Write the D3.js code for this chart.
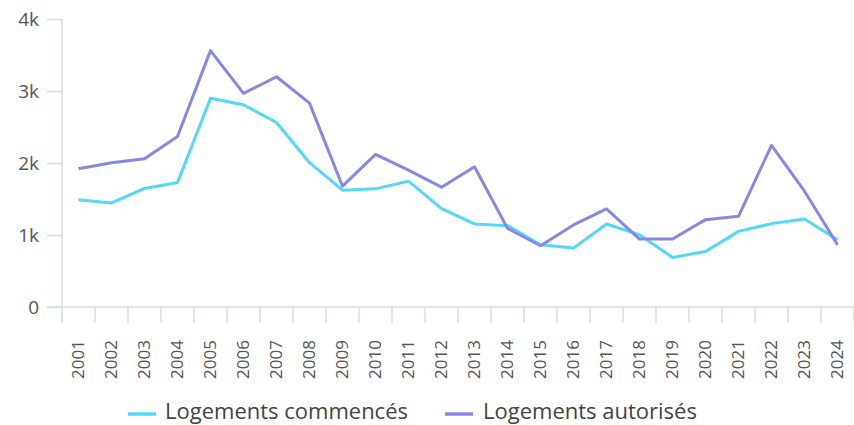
<!DOCTYPE html>
<html>
<head>
<meta charset="utf-8">
<script src="https://cdn.jsdelivr.net/npm/d3@7"></script>
<style>
  html, body { margin: 0; padding: 0; background: #fff; }
  svg { display: block; font-family: "Open Sans", sans-serif; }
</style>
</head>
<body>
<svg id="chart" width="854" height="425"></svg>
<script>
const years = ["2001","2002","2003","2004","2005","2006","2007","2008","2009","2010","2011","2012","2013","2014","2015","2016","2017","2018","2019","2020","2021","2022","2023","2024"];
const commences = [1490,1446,1646,1729,2900,2808,2562,2004,1622,1641,1748,1367,1153,1130,865,818,1153,1004,688,771,1050,1158,1223,934];
const autorises = [1920,2004,2060,2367,3561,2966,3198,2831,1678,2120,1900,1664,1948,1092,851,1140,1362,944,944,1213,1260,2245,1608,865];
const yTicks = [0,1000,2000,3000,4000];
const seriesNames = ["Logements commencés","Logements autorisés"];
const colors = ["#52d9fa","#8787e6"];

const svg = d3.select("#chart");
const axisColor = "#d5dcf0";
const x = d3.scaleBand().domain(years).range([62, 854]);
const y = d3.scaleLinear().domain([0, 4000]).range([307, 19]);

// Y axis
const yAxis = svg.append("g").attr("transform", "translate(62,0)")
  .call(d3.axisLeft(y).tickValues(yTicks).tickSize(15).tickSizeOuter(0).tickPadding(8)
    .tickFormat(d => d === 0 ? "0" : (d/1000) + "k"));
yAxis.select(".domain").remove();
yAxis.selectAll(".tick line").attr("stroke", axisColor).attr("stroke-width", 1.5);
yAxis.selectAll(".tick text").attr("fill", "#555").attr("font-size", 19).attr("font-family", "Open Sans, sans-serif");
svg.append("line").attr("x1", 62).attr("x2", 62).attr("y1", y(4000)).attr("y2", 323)
  .attr("stroke", axisColor).attr("stroke-width", 1.5);

// X axis
svg.append("line").attr("x1", 47).attr("x2", 854).attr("y1", y(0)).attr("y2", y(0))
  .attr("stroke", axisColor).attr("stroke-width", 1.5);
const bounds = years.map(d => x(d)).concat([x.range()[1]]);
svg.append("g").selectAll("line").data(bounds).join("line")
  .attr("x1", d => d).attr("x2", d => d).attr("y1", y(0)).attr("y2", 323)
  .attr("stroke", axisColor).attr("stroke-width", 1.5);
const xAxis = svg.append("g").attr("transform", `translate(0,${y(0)})`)
  .call(d3.axisBottom(x).tickSize(0).tickPadding(0));
xAxis.select(".domain").remove();
xAxis.selectAll(".tick text")
  .attr("transform", "rotate(-90)")
  .attr("x", -33).attr("y", 0).attr("dy", "0.35em")
  .attr("text-anchor", "end")
  .attr("fill", "#555").attr("font-size", 17).attr("font-family", "Open Sans, sans-serif");

// Lines
const cx = d => x(d) + x.bandwidth() / 2;
const line = d3.line().x((d, i) => cx(years[i])).y(d => y(d));
[commences, autorises].forEach((vals, k) => {
  svg.append("path").datum(vals).attr("d", line)
    .attr("fill", "none").attr("stroke", colors[k]).attr("stroke-width", 3)
    .attr("stroke-linejoin", "round");
});

// Legend
const legendPos = [[128, 165], [445, 483]];
seriesNames.forEach((name, k) => {
  const [lx, tx] = legendPos[k];
  svg.append("line").attr("x1", lx).attr("x2", lx + 28).attr("y1", 414).attr("y2", 414)
    .attr("stroke", colors[k]).attr("stroke-width", 3.5);
  svg.append("text").attr("x", tx).attr("y", 419).text(name)
    .attr("fill", "#444").attr("font-size", 22);
});
</script>
</body>
</html>
